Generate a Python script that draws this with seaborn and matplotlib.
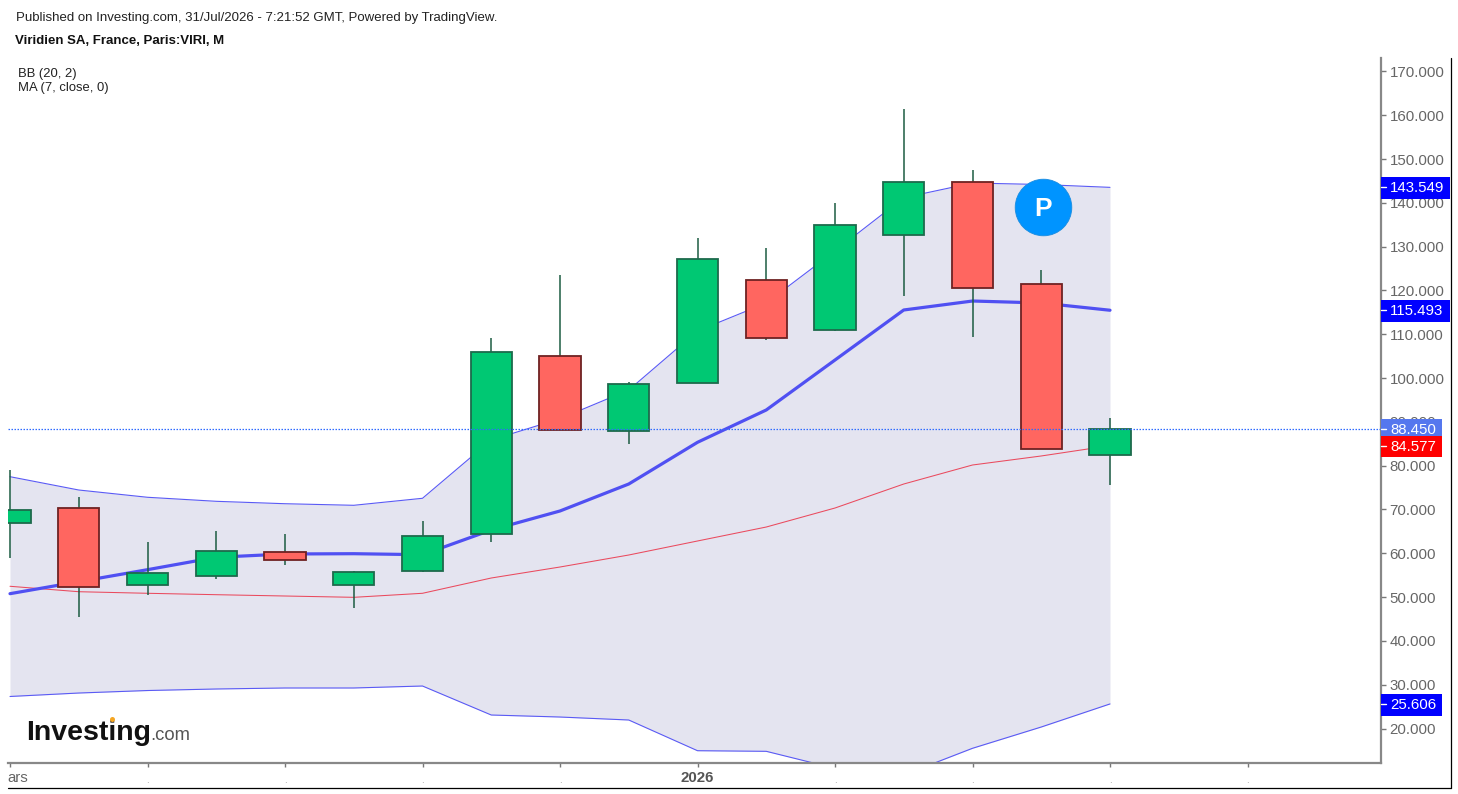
import numpy as np
import pandas as pd
import matplotlib
matplotlib.use("Agg")
import matplotlib.pyplot as plt
from matplotlib.lines import Line2D
from matplotlib.patches import Rectangle
from matplotlib.transforms import ScaledTranslation
import seaborn as sns

# ---- data ----
months = list(range(17))
opens  = [66.85, 70.27, 52.69, 54.89, 60.23, 52.69, 55.89, 64.41, 105.11, 87.85, 98.81, 122.47, 111.05, 132.74, 144.77, 121.48, 82.44]
closes = [69.90, 52.37, 55.43, 60.53, 58.40, 55.80, 63.95, 106.03, 88.15, 98.65, 127.12, 109.22, 134.95, 144.70, 120.57, 83.81, 88.45]
highs  = [79.00, 72.92, 62.51, 65.09, 64.47, 55.90, 67.31, 109.16, 123.54, 99.11, 132.00, 129.77, 139.98, 161.44, 147.40, 124.68, 90.89]
lows   = [58.86, 45.39, 50.41, 54.20, 57.26, 47.58, 55.66, 62.58, 88.15, 84.95, 98.81, 108.77, 110.82, 118.81, 109.38, 83.81, 75.59]
bb_upper = [77.49, 74.45, 72.79, 71.87, 71.32, 70.96, 72.56, 85.87, 90.73, 97.28, 110.75, 117.15, 129.02, 141.19, 144.54, 144.20, 143.549]
bb_mid   = [50.78, 53.52, 56.26, 59.09, 59.84, 59.91, 59.68, 65.32, 69.66, 75.82, 85.34, 92.72, 104.13, 115.55, 117.60, 117.15, 115.493]
bb_lower = [27.31, 28.10, 28.67, 29.02, 29.25, 29.25, 29.70, 23.08, 22.62, 21.94, 14.93, 14.79, 10.90, 9.40, 15.48, 20.34, 25.606]
ma_7     = [52.47, 51.23, 50.87, 50.55, 50.25, 49.95, 50.87, 54.36, 56.87, 59.61, 62.81, 66.00, 70.34, 75.82, 80.16, 82.22, 84.577]
y_ticks = list(range(20, 180, 10))
x_ticks = list(range(0, 20, 2))
x_tick_labels = ["ars", ".", ".", ".", ".", "2026", ".", ".", ".", "."]
last_price = 88.450
badge_values = [143.549, 115.493, 88.450, 84.577, 25.606]
badge_colors = ["#0000FF", "#0000FF", "#5577EE", "#FF0000", "#0000FF"]
badge_wide = [True, True, False, False, False]
pivot_value = 139.13
pivot_month = 15.02

df = pd.DataFrame(dict(month=months, upper=bb_upper, mid=bb_mid, lower=bb_lower, ma=ma_7))

W, H = 1458, 794
sns.set_theme(style="white")
plt.rcParams["font.family"] = ["Liberation Sans", "DejaVu Sans"]

def fx(x): return x / W
def fy(y): return 1 - y / H

fig = plt.figure(figsize=(W / 100, H / 100), dpi=100, facecolor="white")
L, R, T, B = 8, 1381, 58, 762.5
ax = fig.add_axes([fx(L), fy(B), (R - L) / W, (B - T) / H])
step = 68.75
ax.set_xlim((L - 10) / step, (R - 10) / step)
ax.set_ylim(80 + (465.7 - B) / 4.38, 80 + (465.7 - T) / 4.38)
ax.set_facecolor("white")

# Bollinger band
ax.fill_between(df["month"], df["lower"], df["upper"], color="#E4E4F0", lw=0, zorder=1)
sns.lineplot(data=df, x="month", y="upper", ax=ax, color="#5A5AF5", lw=0.8, zorder=2)
sns.lineplot(data=df, x="month", y="lower", ax=ax, color="#5A5AF5", lw=0.8, zorder=2)
sns.lineplot(data=df, x="month", y="ma", ax=ax, color="#EA4A5E", lw=0.75, zorder=2)
sns.lineplot(data=df, x="month", y="mid", ax=ax, color="#5050F2", lw=2.3, zorder=3)

# Candles
ax.vlines(months, lows, highs, color="#1C5C42", lw=1.1, zorder=4)
for m, o, c in zip(months, opens, closes):
    up = c >= o
    ax.bar(m, abs(c - o), bottom=min(o, c), width=0.6,
           color="#00C873" if up else "#FF6660",
           edgecolor="#1D6A4C" if up else "#6E2222", lw=1.3, zorder=5)

# last price line
ax.axhline(last_price, color="#2F6BFF", lw=0.9, ls=(0, (1.2, 1.2)), zorder=6)

# pivot badge
ax.scatter([pivot_month], [pivot_value], s=1660, color="#0094FF", edgecolor="#1A8CE0", lw=0.6, zorder=7)
ax.text(pivot_month, pivot_value, "P", color="white", fontsize=19, fontweight="bold",
        ha="center", va="center_baseline", zorder=8)

# Axes
ax.set_xlabel(""); ax.set_ylabel("")
for s in ("left", "top"):
    ax.spines[s].set_visible(False)
for s in ("right", "bottom"):
    ax.spines[s].set_color("#888888")
    ax.spines[s].set_linewidth(1.6)
ax.yaxis.tick_right()
ax.set_yticks(y_ticks)
ax.set_yticklabels([f"{v:.3f}" for v in y_ticks])
ax.tick_params(axis="y", length=3.6, width=1, color="#777777", labelcolor="#666666",
               labelsize=10.8, pad=2.5, right=True, left=False)
ax.set_xticks(x_ticks)
ax.set_xticklabels(x_tick_labels)
ax.tick_params(axis="x", length=3.2, width=1, color="#777777", labelcolor="#666666",
               labelsize=10.8, pad=3, bottom=True)
labs = ax.get_xticklabels()
labs[0].set_ha("left")
labs[0].set_transform(labs[0].get_transform() + ScaledTranslation(-0.03, 0, fig.dpi_scale_trans))
labs[5].set_fontweight("bold")
labs[5].set_color("#555555")
for lab in labs:
    if lab.get_text() == ".":
        lab.set_fontsize(7)
        lab.set_color("#999999")
        lab.set_transform(lab.get_transform() + ScaledTranslation(0, -0.035, fig.dpi_scale_trans))

# Price badges at the right edge
trans = ax.get_yaxis_transform()
ax_w = R - L
for v, col, wide in zip(badge_values, badge_colors, badge_wide):
    w = (1450 if wide else 1442) - R
    ax.add_patch(Rectangle((1.0, v - 2.7), w / ax_w, 5.0, transform=trans, facecolor=col,
                           edgecolor="none", clip_on=False, zorder=20))
    ax.plot([1.0, 1.0 + 5 / ax_w], [v, v], transform=trans, color="white", lw=1,
            clip_on=False, zorder=21)
    ax.text(1.0 + 9 / ax_w, v - 0.25, f"{v:.3f}", transform=trans, color="white", fontsize=10.8,
            va="center", ha="left", clip_on=False, zorder=22)

# Frame lines
fig.add_artist(Line2D([fx(1450.7)] * 2, [fy(58), fy(788)], color="black", lw=0.9))
fig.add_artist(Line2D([fx(8), fx(1451)], [fy(788)] * 2, color="black", lw=0.9))

# Header texts
fig.text(fx(16), fy(18), "Published on Investing.com, 31/Jul/2026 - 7:21:52 GMT, Powered by TradingView.",
         fontsize=9.5, color="#222222", va="center", ha="left")
fig.text(fx(15), fy(41), "Viridien SA, France, Paris:VIRI, M", fontsize=9.5, fontweight="bold",
         color="#111111", va="center", ha="left")
fig.text(fx(18), fy(74), "BB (20, 2)", fontsize=9.4, color="#222222", va="center", ha="left")
fig.text(fx(18), fy(88), "MA (7, close, 0)", fontsize=9.4, color="#222222", va="center", ha="left")

# Logo
fig.text(fx(26), fy(739.5), "Investing", fontsize=20.5, fontweight="bold", color="#111111",
         va="baseline", ha="left", zorder=30)
fig.text(fx(150), fy(739.5), ".com", fontsize=13.3, color="#555555", va="baseline", ha="left", zorder=30)
fig.add_artist(Line2D([fx(112)], [fy(718.5)], marker="o", ms=3.6, color="#F5A623", mew=0, zorder=31))

fig.savefig("out.png", dpi=100, facecolor="white")
